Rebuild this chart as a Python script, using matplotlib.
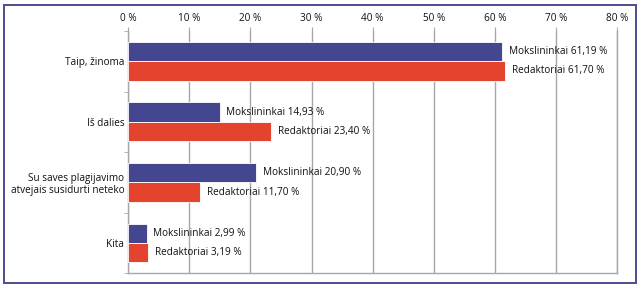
import numpy as np
import matplotlib.pyplot as plt
from matplotlib.patches import Rectangle

plt.rcParams['font.family'] = ['Open Sans', 'DejaVu Sans']

categories = ["Taip, žinoma", "Iš dalies", "Su saves plagijavimo\natvejais susidurti neteko", "Kita"]
mokslininkai = [61.19, 14.93, 20.90, 2.99]
redaktoriai = [61.70, 23.40, 11.70, 3.19]
ticks = [0, 10, 20, 30, 40, 50, 60, 70, 80]

BLUE = "#44468f"
RED = "#e4432d"
GRID = "#a8a8a8"
TXT = "#111111"


def fmt(v):
    return ("%.2f" % v).replace(".", ",") + " %"


fig = plt.figure(figsize=(6.4, 2.87), dpi=100)
ax = fig.add_axes([0.2005, 0.048, 0.7635, 0.844])

n = len(categories)
y = np.arange(n)
h = 0.32
ax.barh(y - h / 2, mokslininkai, height=h, color=BLUE, edgecolor="white", linewidth=0.6, zorder=3)
ax.barh(y + h / 2, redaktoriai, height=h, color=RED, edgecolor="white", linewidth=0.6, zorder=3)

for i in range(n):
    ax.text(mokslininkai[i] + 1.1, y[i] - h / 2, "Mokslininkai " + fmt(mokslininkai[i]),
            va="center", ha="left", fontsize=7.2, color=TXT)
    ax.text(redaktoriai[i] + 1.1, y[i] + h / 2, "Redaktoriai " + fmt(redaktoriai[i]),
            va="center", ha="left", fontsize=7.2, color=TXT)

ax.set_xlim(0, 80)
ax.set_ylim(n - 0.5, -0.5)
ax.set_xticks(ticks)
ax.set_xticklabels(["%d %%" % t for t in ticks], fontsize=7.2, color=TXT)
ax.xaxis.tick_top()
ax.tick_params(axis="x", length=3, color=GRID, pad=2)
ax.grid(axis="x", color=GRID, linewidth=1, zorder=0)

ax.set_yticks(y)
ax.set_yticklabels(categories, fontsize=7.2, color=TXT, ha="right")
ax.set_yticks(np.arange(n + 1) - 0.5, minor=True)
ax.tick_params(axis="y", which="major", length=0, pad=3)
ax.tick_params(axis="y", which="minor", length=3, color=GRID)

ax.spines["top"].set_visible(False)
for s in ["left", "right", "bottom"]:
    ax.spines[s].set_color(GRID)
    ax.spines[s].set_linewidth(1)

fig.patches.append(Rectangle((0.007, 0.014), 0.986, 0.967, transform=fig.transFigure,
                             fill=False, edgecolor="#4a4c8d", linewidth=1.4))

fig.savefig("out.png", dpi=100)
